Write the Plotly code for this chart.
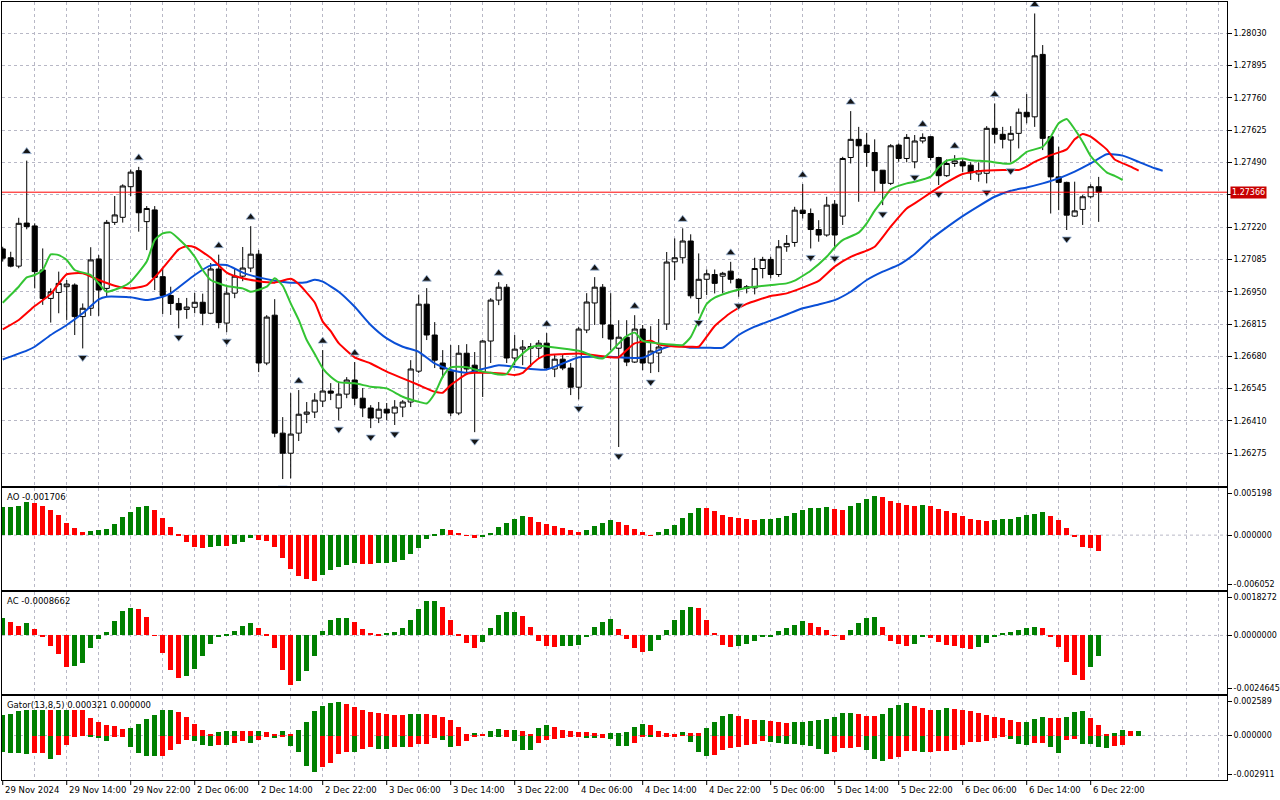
import plotly.graph_objects as go

# H1 bars, bar 0 = 29 Nov 2024 06:00 (trading hours only)
opens = [1.27129, 1.27092, 1.27057, 1.27237, 1.27225, 1.27041, 1.26922, 1.26947, 1.26971, 1.26978,
         1.26846, 1.26881, 1.27087, 1.26964, 1.27240, 1.27261, 1.27389, 1.27456, 1.27243, 1.27292,
         1.27013, 1.26934, 1.26901, 1.26876, 1.26885, 1.26906, 1.26860, 1.27045, 1.26819, 1.26944,
         1.27015, 1.27049, 1.27107, 1.26652, 1.26852, 1.26359, 1.26275, 1.26359, 1.26438, 1.26447,
         1.26493, 1.26535, 1.26464, 1.26522, 1.26581, 1.26505, 1.26464, 1.26422, 1.26459, 1.26443,
         1.26468, 1.26489, 1.26618, 1.26898, 1.26769, 1.26652, 1.26618, 1.26443, 1.26693, 1.26643,
         1.26614, 1.26744, 1.26915, 1.26969, 1.26673, 1.26710, 1.26714, 1.26714, 1.26735, 1.26627,
         1.26668, 1.26631, 1.26551, 1.26790, 1.26903, 1.26969, 1.26811, 1.26714, 1.26760, 1.26656,
         1.26794, 1.26652, 1.26694, 1.26815, 1.27075, 1.27092, 1.27162, 1.26922, 1.27002, 1.27022,
         1.27015, 1.27036, 1.27002, 1.26964, 1.26966, 1.27047, 1.27085, 1.27022, 1.27138, 1.27156,
         1.27291, 1.27277, 1.27210, 1.27187, 1.27316, 1.27266, 1.27511, 1.27587, 1.27563, 1.27532,
         1.27458, 1.27403, 1.27563, 1.27507, 1.27493, 1.27580, 1.27598, 1.27511, 1.27435, 1.27486,
         1.27493, 1.27479, 1.27442, 1.27445, 1.27633, 1.27608, 1.27584, 1.27612, 1.27700, 1.27681,
         1.27942, 1.27598, 1.27430, 1.27407, 1.27266, 1.27294, 1.27347, 1.27389]
highs = [1.27138, 1.27117, 1.27259, 1.27498, 1.27236, 1.27131, 1.26964, 1.27034, 1.26999, 1.26985,
         1.26901, 1.27136, 1.27103, 1.27250, 1.27350, 1.27399, 1.27461, 1.27472, 1.27308, 1.27308,
         1.27045, 1.26971, 1.26924, 1.26924, 1.26945, 1.26942, 1.27070, 1.27105, 1.26969, 1.27049,
         1.27137, 1.27224, 1.27124, 1.26852, 1.26919, 1.26426, 1.26526, 1.26539, 1.26489, 1.26526,
         1.26706, 1.26568, 1.26568, 1.26593, 1.26656, 1.26547, 1.26476, 1.26489, 1.26485, 1.26497,
         1.26497, 1.26664, 1.26938, 1.26965, 1.26823, 1.26706, 1.26727, 1.26727, 1.26731, 1.26698,
         1.26748, 1.26923, 1.26990, 1.26982, 1.26769, 1.26748, 1.26735, 1.26748, 1.26777, 1.26689,
         1.26689, 1.26652, 1.26802, 1.26944, 1.27011, 1.26982, 1.26944, 1.26831, 1.26831, 1.26852,
         1.26811, 1.26806, 1.26836, 1.27116, 1.27173, 1.27215, 1.27190, 1.27110, 1.27043, 1.27043,
         1.27033, 1.27075, 1.27006, 1.26978, 1.27092, 1.27096, 1.27096, 1.27166, 1.27187, 1.27305,
         1.27400, 1.27298, 1.27249, 1.27347, 1.27333, 1.27514, 1.27705, 1.27639, 1.27614, 1.27587,
         1.27458, 1.27567, 1.27570, 1.27609, 1.27605, 1.27612, 1.27601, 1.27514, 1.27503, 1.27521,
         1.27507, 1.27491, 1.27491, 1.27642, 1.27737, 1.27639, 1.27642, 1.27716, 1.27776, 1.28113,
         1.27981, 1.27598, 1.27556, 1.27410, 1.27410, 1.27354, 1.27399, 1.27430]
lows = [1.27076, 1.27052, 1.27048, 1.27211, 1.26964, 1.26895, 1.26821, 1.26860, 1.26832, 1.26769,
        1.26713, 1.26849, 1.26849, 1.26929, 1.27229, 1.27239, 1.27350, 1.27201, 1.27124, 1.26957,
        1.26857, 1.26853, 1.26797, 1.26837, 1.26860, 1.26810, 1.26856, 1.26797, 1.26781, 1.26923,
        1.26994, 1.27032, 1.26614, 1.26643, 1.26342, 1.26167, 1.26170, 1.26326, 1.26401, 1.26422,
        1.26468, 1.26497, 1.26413, 1.26505, 1.26476, 1.26426, 1.26380, 1.26401, 1.26413, 1.26393,
        1.26426, 1.26468, 1.26610, 1.26748, 1.26631, 1.26589, 1.26430, 1.26434, 1.26602, 1.26363,
        1.26510, 1.26652, 1.26894, 1.26652, 1.26643, 1.26643, 1.26635, 1.26673, 1.26627, 1.26593,
        1.26622, 1.26518, 1.26500, 1.26777, 1.26811, 1.26756, 1.26706, 1.26301, 1.26639, 1.26652,
        1.26622, 1.26610, 1.26614, 1.26790, 1.26999, 1.27068, 1.26922, 1.26859, 1.26936, 1.26943,
        1.26943, 1.26985, 1.26929, 1.26943, 1.26939, 1.27006, 1.27006, 1.27012, 1.27117, 1.27138,
        1.27256, 1.27131, 1.27159, 1.27180, 1.27128, 1.27229, 1.27486, 1.27326, 1.27472, 1.27368,
        1.27312, 1.27396, 1.27493, 1.27491, 1.27466, 1.27570, 1.27500, 1.27396, 1.27430, 1.27472,
        1.27451, 1.27417, 1.27410, 1.27403, 1.27570, 1.27549, 1.27493, 1.27549, 1.27654, 1.27639,
        1.27542, 1.27277, 1.27291, 1.27208, 1.27263, 1.27229, 1.27340, 1.27242]
closes = [1.27090, 1.27057, 1.27236, 1.27222, 1.27034, 1.26922, 1.26950, 1.26985, 1.26982, 1.26846,
          1.26881, 1.27083, 1.26957, 1.27240, 1.27271, 1.27392, 1.27450, 1.27280, 1.27298, 1.27010,
          1.26934, 1.26901, 1.26874, 1.26886, 1.26906, 1.26860, 1.27045, 1.26821, 1.26944, 1.27015,
          1.27049, 1.27107, 1.26652, 1.26844, 1.26359, 1.26275, 1.26355, 1.26438, 1.26447, 1.26497,
          1.26535, 1.26526, 1.26522, 1.26581, 1.26505, 1.26464, 1.26422, 1.26459, 1.26443, 1.26468,
          1.26489, 1.26627, 1.26898, 1.26769, 1.26664, 1.26627, 1.26443, 1.26693, 1.26627, 1.26614,
          1.26744, 1.26915, 1.26969, 1.26673, 1.26710, 1.26719, 1.26721, 1.26735, 1.26631, 1.26668,
          1.26631, 1.26551, 1.26794, 1.26907, 1.26969, 1.26815, 1.26752, 1.26760, 1.26656, 1.26794,
          1.26652, 1.26702, 1.26719, 1.27074, 1.27092, 1.27162, 1.26933, 1.27002, 1.27025, 1.26985,
          1.27027, 1.27002, 1.26966, 1.26971, 1.27047, 1.27085, 1.27022, 1.27138, 1.27152, 1.27291,
          1.27277, 1.27210, 1.27187, 1.27312, 1.27187, 1.27507, 1.27587, 1.27560, 1.27532, 1.27456,
          1.27403, 1.27560, 1.27507, 1.27595, 1.27580, 1.27595, 1.27511, 1.27435, 1.27486, 1.27497,
          1.27476, 1.27447, 1.27456, 1.27633, 1.27608, 1.27587, 1.27612, 1.27700, 1.27681, 1.27936,
          1.27591, 1.27430, 1.27407, 1.27270, 1.27288, 1.27347, 1.27389, 1.27366]

# Alligator (already shifted forward: jaw 8, teeth 5, lips 3)
jaw_x = [0, 3, 4, 6, 8, 10, 12, 13, 16, 18, 20, 21, 24, 26, 28, 30, 32, 34, 36, 38,
         39, 40, 42, 44, 46, 48, 50, 52, 54, 56, 58, 60, 62, 64, 66, 68, 70, 72, 74, 76,
         78, 80, 82, 84, 86, 88, 90, 92, 94, 96, 98, 100, 102, 104, 106, 108, 110, 112, 114, 116,
         118, 120, 122, 124, 126, 128, 130, 132, 134, 136, 138, 140, 142, 144, 145]
jaw_y = [1.26667, 1.26704, 1.26720, 1.26769, 1.26811, 1.26860, 1.26918, 1.26929, 1.26927, 1.26915,
         1.26929, 1.26943, 1.27020, 1.27060, 1.27062, 1.27030, 1.27010, 1.26996, 1.26988, 1.26990,
         1.27000, 1.26992, 1.26950, 1.26887, 1.26811, 1.26755, 1.26720, 1.26699, 1.26650, 1.26623,
         1.26611, 1.26627, 1.26643, 1.26636, 1.26627, 1.26625, 1.26650, 1.26676, 1.26678, 1.26678,
         1.26674, 1.26674, 1.26706, 1.26726, 1.26716, 1.26716, 1.26716, 1.26769, 1.26804, 1.26829,
         1.26855, 1.26881, 1.26897, 1.26915, 1.26950, 1.26999, 1.27034, 1.27062, 1.27108, 1.27169,
         1.27219, 1.27266, 1.27308, 1.27347, 1.27372, 1.27386, 1.27403, 1.27424, 1.27452, 1.27486,
         1.27525, 1.27519, 1.27493, 1.27466, 1.27456]
teeth_x = [0, 2, 4, 6, 8, 10, 12, 14, 16, 18, 20, 22, 23, 24, 26, 28, 30, 32, 34, 36,
           37, 39, 40, 41, 42, 44, 46, 48, 50, 52, 54, 55, 56, 58, 59, 61, 63, 64, 65, 66,
           67, 68, 70, 72, 74, 76, 77, 78, 79, 81, 82, 84, 86, 87, 88, 89, 91, 93, 96, 98,
           100, 102, 104, 106, 108, 109, 111, 113, 114, 116, 118, 120, 122, 125, 127, 128, 129, 131, 133, 134,
           135, 136, 138, 139, 141, 142]
teeth_y = [1.26793, 1.26832, 1.26890, 1.26940, 1.27023, 1.27027, 1.26999, 1.26975, 1.26964, 1.26978,
           1.27048, 1.27127, 1.27141, 1.27136, 1.27092, 1.27030, 1.27006, 1.26994, 1.26988, 1.27004,
           1.26982, 1.26905, 1.26825, 1.26785, 1.26735, 1.26676, 1.26650, 1.26616, 1.26588, 1.26560,
           1.26532, 1.26528, 1.26560, 1.26606, 1.26611, 1.26611, 1.26606, 1.26602, 1.26611, 1.26643,
           1.26671, 1.26685, 1.26689, 1.26692, 1.26685, 1.26676, 1.26676, 1.26706, 1.26734, 1.26745,
           1.26730, 1.26721, 1.26720, 1.26720, 1.26762, 1.26807, 1.26862, 1.26899, 1.26932, 1.26943,
           1.26967, 1.26995, 1.27055, 1.27096, 1.27122, 1.27138, 1.27222, 1.27298, 1.27319, 1.27364,
           1.27407, 1.27442, 1.27454, 1.27459, 1.27459, 1.27473, 1.27493, 1.27521, 1.27545, 1.27587,
           1.27609, 1.27598, 1.27545, 1.27503, 1.27473, 1.27456]
lips_x = [0, 2, 3, 4, 5, 6, 7, 8, 9, 11, 12, 13, 15, 16, 18, 19, 20, 21, 23, 24,
          25, 26, 28, 30, 31, 33, 34, 35, 36, 37, 38, 39, 40, 41, 42, 44, 46, 48, 50, 52,
          53, 54, 55, 56, 58, 60, 61, 62, 63, 64, 65, 66, 67, 68, 70, 72, 73, 74, 75, 76,
          77, 78, 79, 80, 82, 84, 85, 86, 87, 88, 89, 91, 93, 96, 98, 99, 101, 103, 104, 105,
          107, 108, 109, 110, 111, 113, 114, 116, 117, 118, 120, 121, 123, 125, 126, 127, 128, 130, 131, 132,
          133, 134, 135, 136, 138, 139, 140]
lips_y = [1.26904, 1.26971, 1.27010, 1.27020, 1.27041, 1.27106, 1.27103, 1.27083, 1.27041, 1.27020,
          1.26985, 1.26950, 1.26971, 1.26992, 1.27076, 1.27166, 1.27194, 1.27198, 1.27138, 1.27096,
          1.27041, 1.26999, 1.26974, 1.26964, 1.26950, 1.26971, 1.27006, 1.26975, 1.26901, 1.26832,
          1.26748, 1.26690, 1.26630, 1.26595, 1.26572, 1.26567, 1.26553, 1.26546, 1.26511, 1.26490,
          1.26483, 1.26525, 1.26595, 1.26634, 1.26634, 1.26616, 1.26611, 1.26604, 1.26606, 1.26657,
          1.26692, 1.26717, 1.26724, 1.26721, 1.26713, 1.26703, 1.26692, 1.26676, 1.26671, 1.26699,
          1.26734, 1.26765, 1.26779, 1.26745, 1.26734, 1.26728, 1.26727, 1.26760, 1.26830, 1.26899,
          1.26925, 1.26950, 1.26967, 1.26978, 1.26985, 1.26996, 1.27038, 1.27096, 1.27135, 1.27166,
          1.27197, 1.27236, 1.27289, 1.27333, 1.27378, 1.27403, 1.27410, 1.27431, 1.27470, 1.27498,
          1.27507, 1.27500, 1.27495, 1.27486, 1.27486, 1.27507, 1.27535, 1.27556, 1.27598, 1.27654,
          1.27672, 1.27629, 1.27577, 1.27517, 1.27449, 1.27434, 1.27417]

fractal_up = [3, 17, 27, 31, 37, 40, 44, 53, 62, 68, 74, 79, 85, 91, 100, 106, 115, 119, 124, 129]
fractal_dn = [10, 22, 28, 35, 42, 46, 49, 59, 72, 77, 81, 87, 92, 101, 104, 110, 114, 117, 123, 126, 133]

ao = [0.003051, 0.003125, 0.003235, 0.003676, 0.003566, 0.003235, 0.002794, 0.002242, 0.001360, 0.000809,
      0.000368, 0.000478, 0.000588, 0.000698, 0.001250, 0.002022, 0.002573, 0.003125, 0.003235, 0.002794,
      0.001912, 0.000919, 0.000037, -0.000735, -0.001323, -0.001397, -0.001287, -0.001176, -0.001195, -0.001029,
      -0.000735, -0.000368, -0.000515, -0.000625, -0.001287, -0.002500, -0.003786, -0.004485, -0.004889, -0.005036,
      -0.004374, -0.003823, -0.003566, -0.003345, -0.003088, -0.003161, -0.003180, -0.003051, -0.003033, -0.002941,
      -0.002720, -0.002132, -0.001397, -0.000478, 0.000110, 0.000625, 0.000551, 0.000257, -0.000037, -0.000368,
      -0.000257, 0.000257, 0.000919, 0.001360, 0.001801, 0.002132, 0.002022, 0.001470, 0.001250, 0.001029,
      0.000809, 0.000588, 0.000368, 0.000588, 0.001029, 0.001360, 0.001691, 0.001470, 0.001140, 0.000698,
      0.000368, -0.000037, 0.000368, 0.000698, 0.001140, 0.001912, 0.002463, 0.003014, 0.002978, 0.002683,
      0.002242, 0.002022, 0.001912, 0.001801, 0.001691, 0.001728, 0.001801, 0.001912, 0.002132, 0.002463,
      0.002794, 0.003014, 0.003033, 0.003051, 0.002904, 0.002794, 0.003235, 0.003566, 0.004007, 0.004338,
      0.004227, 0.003786, 0.003566, 0.003345, 0.003235, 0.003345, 0.003235, 0.002904, 0.002683, 0.002463,
      0.002132, 0.001801, 0.001691, 0.001581, 0.001691, 0.001801, 0.001820, 0.002022, 0.002242, 0.002353,
      0.002573, 0.002132, 0.001691, 0.000809, -0.000257, -0.001287, -0.001397, -0.001706]
ac = [0.000727, 0.000556, 0.000385, 0.000513, 0.000257, -0.000071, -0.000456, -0.000799, -0.001326, -0.001269,
      -0.001141, -0.000542, -0.000157, 0.000128, 0.000599, 0.001027, 0.001155, 0.001112, 0.000770, 0.000014,
      -0.000756, -0.001440, -0.001783, -0.001697, -0.001397, -0.000884, -0.000371, -0.000029, 0.000043, 0.000171,
      0.000385, 0.000513, 0.000299, 0.000043, -0.000542, -0.001440, -0.002082, -0.001911, -0.001483, -0.000884,
      0.000171, 0.000642, 0.000727, 0.000734, 0.000556, 0.000257, 0.000086, 0.000071, 0.000100, 0.000128,
      0.000299, 0.000642, 0.001112, 0.001455, 0.001462, 0.001198, 0.000642, 0.000043, -0.000328, -0.000542,
      -0.000285, 0.000299, 0.000856, 0.000984, 0.000991, 0.000813, 0.000342, -0.000242, -0.000456, -0.000499,
      -0.000456, -0.000449, -0.000414, -0.000057, 0.000342, 0.000556, 0.000684, 0.000257, -0.000157, -0.000542,
      -0.000713, -0.000670, -0.000200, 0.000214, 0.000642, 0.001070, 0.001198, 0.001155, 0.000642, 0.000086,
      -0.000414, -0.000499, -0.000456, -0.000371, -0.000242, -0.000057, -0.000029, 0.000171, 0.000299, 0.000428,
      0.000599, 0.000513, 0.000342, 0.000214, -0.000014, -0.000200, 0.000214, 0.000513, 0.000727, 0.000770,
      0.000342, -0.000242, -0.000371, -0.000456, -0.000371, -0.000071, -0.000114, -0.000285, -0.000414, -0.000428,
      -0.000542, -0.000585, -0.000499, -0.000328, -0.000071, 0.000086, 0.000128, 0.000214, 0.000299, 0.000342,
      0.000328, -0.000071, -0.000499, -0.001098, -0.001654, -0.001868, -0.001326, -0.0008662]
gator_up = [0.001321, 0.001386, 0.001602, 0.001645, 0.001652, 0.001658, 0.001654, 0.001661, 0.001667, 0.001663,
            0.001656, 0.001126, 0.000866, 0.000671, 0.000606, 0.000433, 0.000498, 0.000736, 0.001061, 0.001321,
            0.001645, 0.001656, 0.001516, 0.001191, 0.000736, 0.000346, 0.000087, 0.000217, 0.000281, 0.000288,
            0.000281, 0.000275, 0.000286, 0.000217, 0.000087, 0.000281, 0.000087, 0.000346, 0.000866, 0.001580,
            0.001905, 0.002100, 0.002165, 0.002035, 0.001840, 0.001645, 0.001516, 0.001451, 0.001386, 0.001375,
            0.001321, 0.001386, 0.001392, 0.001386, 0.001321, 0.001191, 0.000996, 0.000541, 0.000087, 0.000152,
            0.000087, 0.000281, 0.000411, 0.000346, 0.000353, 0.000281, 0.000087, 0.000476, 0.000671, 0.000541,
            0.000346, 0.000281, 0.000217, 0.000210, 0.000152, 0.000087, 0.000152, 0.000158, 0.000217, 0.000541,
            0.000736, 0.000671, 0.000281, 0.000152, 0.000087, 0.000217, 0.000152, 0.000145, 0.000476, 0.000866,
            0.001256, 0.001386, 0.001256, 0.001061, 0.000996, 0.001002, 0.000931, 0.000866, 0.000801, 0.000866,
            0.000872, 0.000931, 0.000996, 0.001061, 0.001191, 0.001451, 0.001457, 0.001386, 0.001256, 0.001249,
            0.001386, 0.001775, 0.001970, 0.002100, 0.001905, 0.001775, 0.001645, 0.001652, 0.001775, 0.001710,
            0.001704, 0.001580, 0.001451, 0.001321, 0.001191, 0.001126, 0.000996, 0.000866, 0.000872, 0.001061,
            0.001191, 0.001126, 0.001119, 0.001191, 0.001516, 0.001580, 0.001126, 0.000671, 0.000108, 0.000152,
            0.000346, 0.000314, 0.000321]
gator_dn = [-0.001083, -0.001126, -0.001169, -0.001191, -0.001126, -0.001119, -0.001516, -0.001256, -0.000606, -0.000087,
            -0.000022, -0.000043, -0.000152, -0.000346, -0.000087, -0.000043, -0.000736, -0.001126, -0.001321, -0.001331,
            -0.001321, -0.000953, -0.000541, -0.000281, -0.000368, -0.000650, -0.000671, -0.000606, -0.000613, -0.000476,
            -0.000368, -0.000476, -0.000281, -0.000043, -0.000152, -0.000043, -0.000671, -0.001061, -0.001970, -0.002360,
            -0.002035, -0.001775, -0.001191, -0.001061, -0.001067, -0.000866, -0.000736, -0.000866, -0.000872, -0.000736,
            -0.000743, -0.000736, -0.000563, -0.000556, -0.000173, -0.000303, -0.000758, -0.000693, -0.000368, -0.000043,
            -0.000011, -0.000043, -0.000050, -0.000043, -0.000368, -0.000953, -0.000959, -0.000498, -0.000303, -0.000238,
            -0.000173, -0.000108, -0.000043, -0.000152, -0.000173, -0.000167, -0.000217, -0.000693, -0.000699, -0.000498,
            -0.000043, -0.000108, -0.000043, -0.000039, -0.000035, -0.000030, -0.000433, -0.001083, -0.001342, -0.001277,
            -0.000953, -0.000823, -0.000758, -0.000628, -0.000563, -0.000368, -0.000433, -0.000498, -0.000563, -0.000569,
            -0.000628, -0.000693, -0.000888, -0.001212, -0.001083, -0.000801, -0.000795, -0.000758, -0.000953, -0.001516,
            -0.001645, -0.001516, -0.001386, -0.000996, -0.000989, -0.001061, -0.001054, -0.000996, -0.000989, -0.000931,
            -0.000606, -0.000411, -0.000405, -0.000346, -0.000152, -0.000087, -0.000217, -0.000541, -0.000606, -0.000476,
            -0.000470, -0.000736, -0.001126, -0.000281, -0.000217, -0.000541, -0.000563, -0.000736, -0.000801, -0.000671,
            -0.000606]

time_labels = ['29 Nov 2024', '29 Nov 14:00', '29 Nov 22:00', '2 Dec 06:00', '2 Dec 14:00', '2 Dec 22:00',
               '3 Dec 06:00', '3 Dec 14:00', '3 Dec 22:00', '4 Dec 06:00', '4 Dec 14:00', '4 Dec 22:00',
               '5 Dec 06:00', '5 Dec 14:00', '5 Dec 22:00', '6 Dec 06:00', '6 Dec 14:00', '6 Dec 22:00']
label_bars = list(range(0, 8 * len(time_labels), 8))
price_ticks = [1.28030, 1.27895, 1.27760, 1.27625, 1.27490, 1.27355, 1.27220, 1.27085,
               1.26950, 1.26815, 1.26680, 1.26545, 1.26410, 1.26275]
last_price = 1.27366
main_range = [1.26138, 1.28161]
ao_range = [-0.006052, 0.005198]
ac_range = [-0.0024645, 0.0018272]
gator_range = [-0.002911, 0.002589]

GREEN = '#008000'
RED = '#ff0000'
GRID = '#b8b8c6'
DASH = '3px,3px'
FONT = dict(family='DejaVu Sans', size=8.5, color='black')
AXFONT = dict(family='DejaVu Sans', size=8, color='black')

bars = list(range(len(closes)))


def updown(vals, use_abs=False):
    cols = [GREEN]
    for prev, cur in zip(vals[:-1], vals[1:]):
        if use_abs:
            prev, cur = abs(prev), abs(cur)
        cols.append(GREEN if cur > prev else RED)
    return cols


# panel layout in pixels (plot area spans y=2..780)
def dom(top_px, bot_px):
    return [(780 - bot_px) / 778, (780 - top_px) / 778]


def inset(rng, px, panel_px):
    return (rng[1] - rng[0]) * px / panel_px


fig = go.Figure()

fig.add_trace(go.Candlestick(
    x=bars, open=opens, high=highs, low=lows, close=closes,
    increasing=dict(line=dict(color='black', width=1), fillcolor='white'),
    decreasing=dict(line=dict(color='black', width=1), fillcolor='black'),
    whiskerwidth=0, showlegend=False, hoverinfo='skip', xaxis='x', yaxis='y'))

for xs, ys, col in [(jaw_x, jaw_y, '#0a4fd6'), (teeth_x, teeth_y, '#ff0000'), (lips_x, lips_y, '#33c433')]:
    fig.add_trace(go.Scatter(x=xs, y=ys, mode='lines', line=dict(color=col, width=2, shape='spline', smoothing=0.5),
                             showlegend=False, hoverinfo='skip', xaxis='x', yaxis='y'))

# fractal arrowheads, centred a few pixels beyond the bar extreme
off = inset(main_range, 9, 484)
fig.add_trace(go.Scatter(
    x=fractal_up, y=[highs[i] + off for i in fractal_up], mode='markers',
    marker=dict(symbol='triangle-up', size=8, color='#151515', line=dict(color='#9db9dc', width=0.8)),
    showlegend=False, hoverinfo='skip', xaxis='x', yaxis='y'))
fig.add_trace(go.Scatter(
    x=fractal_dn, y=[lows[i] - off for i in fractal_dn], mode='markers',
    marker=dict(symbol='triangle-down', size=8, color='#151515', line=dict(color='#9db9dc', width=0.8)),
    showlegend=False, hoverinfo='skip', xaxis='x', yaxis='y'))

# oscillators
fig.add_trace(go.Bar(x=bars, y=ao, marker=dict(color=updown(ao), line=dict(width=0)), width=0.62,
                     showlegend=False, hoverinfo='skip', xaxis='x2', yaxis='y2'))
fig.add_trace(go.Bar(x=bars, y=ac, marker=dict(color=updown(ac), line=dict(width=0)), width=0.62,
                     showlegend=False, hoverinfo='skip', xaxis='x3', yaxis='y3'))
fig.add_trace(go.Bar(x=list(range(len(gator_up))), y=gator_up,
                     marker=dict(color=updown(gator_up), line=dict(width=0)), width=0.62,
                     showlegend=False, hoverinfo='skip', xaxis='x4', yaxis='y4'))
fig.add_trace(go.Bar(x=list(range(len(gator_dn))), y=gator_dn,
                     marker=dict(color=updown(gator_dn, use_abs=True), line=dict(width=0)), width=0.62,
                     showlegend=False, hoverinfo='skip', xaxis='x4', yaxis='y4'))

xcommon = dict(range=[-0.09, 153.04], showgrid=True, gridcolor=GRID, griddash=DASH, gridwidth=1,
               tickvals=list(range(4, 153, 4)), showticklabels=False, ticks='',
               showline=True, linecolor='black', linewidth=1, mirror=True, zeroline=False, fixedrange=True)
ycommon = dict(side='right', showline=True, linecolor='black', linewidth=1, mirror=True, zeroline=False,
               ticks='outside', ticklen=4, tickcolor='black', tickfont=AXFONT, automargin=False, fixedrange=True)


def sub_axis(rng, panel_px, top_txt, bot_txt, domain):
    return dict(ycommon, domain=domain, range=rng, showgrid=False,
                tickvals=[rng[1] - inset(rng, 5.5, panel_px), 0, rng[0] + inset(rng, 6, panel_px)],
                ticktext=[top_txt, '0.' + '0' * (len(top_txt) - 2), bot_txt])


fig.update_layout(
    width=1280, height=800,
    margin=dict(l=2, r=53, t=2, b=20),
    paper_bgcolor='white', plot_bgcolor='white',
    font=FONT, barmode='overlay', bargap=0, boxgap=0.2, boxgroupgap=0.2,
    showlegend=False,
    xaxis=dict(xcommon, anchor='y', rangeslider=dict(visible=False)),
    xaxis2=dict(xcommon, anchor='y2', matches='x'),
    xaxis3=dict(xcommon, anchor='y3', matches='x'),
    xaxis4=dict(xcommon, anchor='y4', matches='x'),
    yaxis=dict(ycommon, domain=dom(2, 486), range=main_range, showgrid=True, gridcolor=GRID, griddash=DASH,
               tickvals=price_ticks,
               ticktext=['' if abs(v - 1.27355) < 1e-6 else f'{v:.5f}' for v in price_ticks]),
    yaxis2=sub_axis(ao_range, 102, '0.005198', '-0.006052', dom(488, 590)),
    yaxis3=sub_axis(ac_range, 102, '0.0018272', '-0.0024645', dom(592, 694)),
    yaxis4=sub_axis(gator_range, 84, '0.002589', '-0.002911', dom(696, 780)),
)

shapes = []
for yref in ['y2', 'y3', 'y4']:
    shapes.append(dict(type='line', xref='paper', x0=0, x1=1, yref=yref, y0=0, y1=0, layer='below',
                       line=dict(color=GRID, width=1, dash=DASH)))
shapes.append(dict(type='line', xref='paper', x0=0, x1=1, yref='y', y0=last_price, y1=last_price,
                   line=dict(color='#ff0000', width=1)))
for b in label_bars:
    shapes.append(dict(type='line', xref='x4', x0=b, x1=b, yref='paper', y0=0, y1=-5 / 778,
                       line=dict(color='black', width=1)))

annotations = []
annotations.append(dict(x=1, xref='paper', xanchor='left', xshift=3, y=last_price, yref='y',
                        text=f'{last_price:.5f}', showarrow=False, bgcolor='#c80000', borderpad=1,
                        font=dict(family='DejaVu Sans', size=8, color='white')))
for yref, txt in [('y2 domain', f'AO {ao[-1]:.6f}'),
                  ('y3 domain', f'AC {ac[-1]:.7f}'),
                  ('y4 domain', f'Gator(13,8,5) {gator_up[-1]:.6f} {0:.6f}')]:
    annotations.append(dict(x=0, xref='paper', xanchor='left', xshift=3, y=1, yref=yref, yanchor='top',
                            yshift=-2, text=txt, showarrow=False, font=FONT))
for b, txt in zip(label_bars, time_labels):
    annotations.append(dict(x=b, xref='x4', xanchor='left', xshift=0, y=0, yref='paper', yanchor='top',
                            yshift=-3, text=txt, showarrow=False, font=FONT))

fig.update_layout(shapes=shapes, annotations=annotations)

# the page's default body margin would push the chart 8px off the window
fig.write_html("out.html", config={'displayModeBar': False},
               post_script="document.body.style.margin='0';document.body.style.overflow='hidden';")
